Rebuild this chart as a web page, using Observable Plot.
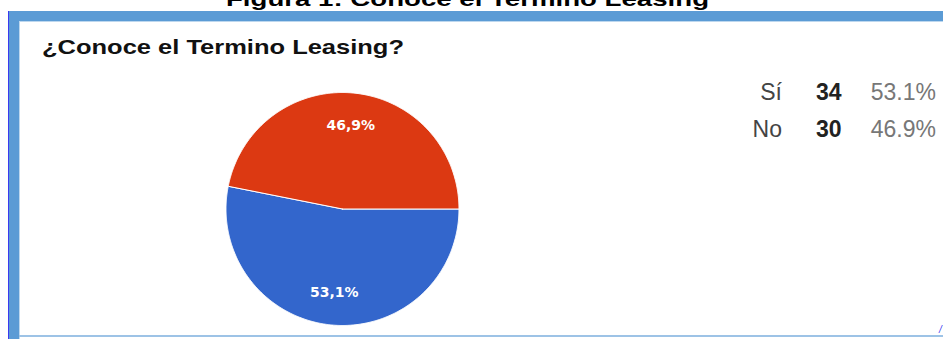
<!DOCTYPE html>
<html><head><meta charset="utf-8">
<script src="https://cdn.jsdelivr.net/npm/d3@7"></script>
<script src="https://cdn.jsdelivr.net/npm/@observablehq/plot@0.6"></script>
<style>
body{margin:0;background:#fff;}
#wrap{position:relative;width:943px;height:339px;overflow:hidden;background:#fff;font-family:"Liberation Sans",Arial,sans-serif;}
.abs{position:absolute;white-space:nowrap;line-height:1;}
.box{position:absolute;}
</style></head><body>
<div id="wrap">
  <div id="chart" class="abs" style="left:0;top:0"></div>
  <div class="box" style="left:8px;top:11px;width:935px;height:10px;background:#5B9BD5"></div>
  <div class="box" style="left:8px;top:11px;width:11px;height:328px;background:#5B9BD5"></div>
  <div class="box" style="left:8px;top:11px;width:1px;height:328px;background:#3a3af0"></div>
  <div class="box" style="left:19px;top:21px;width:1px;height:318px;background:#BDD7EE"></div>
  <div class="box" style="left:19px;top:21px;width:924px;height:1px;background:#BDD7EE"></div>
  <div class="box" style="left:19px;top:335px;width:924px;height:2px;background:#9DC3E6"></div>
</div>
<script>
// ---- data ----
const categories = ["Sí", "No"];
const counts = [34, 30];
const colors = ["#3366CC", "#DC3912"];
const chartTitle = "¿Conoce el Termino Leasing?";
const figureCaption = "Figura 1: Conoce el Termino Leasing";

const total = d3.sum(counts);
const pct = counts.map(c => c / total * 100);

// ---- pie geometry from data ----
const R = 116.5;
const arcs = d3.pie().sort(null).startAngle(Math.PI / 2).endAngle(Math.PI / 2 + 2 * Math.PI)(counts);
const slices = arcs.map((a, i) => {
  const pts = [{x: 0, y: 0}];
  const n = Math.max(4, Math.ceil((a.endAngle - a.startAngle) / (Math.PI / 360)));
  for (let k = 0; k <= n; k++) {
    const t = a.startAngle + (a.endAngle - a.startAngle) * k / n;
    pts.push({x: R * Math.sin(t), y: R * Math.cos(t)});
  }
  pts.push({x: 0, y: 0});
  return pts;
});
const fmtES = v => v.toFixed(1).replace(".", ",") + "%";
const labels = arcs.map((a, i) => {
  const m = (a.startAngle + a.endAngle) / 2;
  return {x: 0.72 * R * Math.sin(m), y: 0.72 * R * Math.cos(m), text: fmtES(pct[i])};
});

const W = 943, H = 339, cx = 342, cy = 208.5;
const plot = Plot.plot({
  width: W, height: H,
  margin: 0,
  x: {domain: [-cx, W - cx], range: [0, W], axis: null},
  y: {domain: [-(H - cy), cy], range: [H, 0], axis: null},
  marks: [
    ...slices.map((pts, i) => Plot.line(pts, {x: "x", y: "y", fill: colors[i], stroke: "#ffffff", strokeWidth: 1, curve: "linear"})),
    Plot.text(labels, {x: "x", y: "y", text: "text", fill: "white", fontFamily: "DejaVu Sans", fontWeight: "bold", fontSize: 14})
  ]
});
document.getElementById("chart").appendChild(plot);

// ---- text helpers ----
const wrap = document.getElementById("wrap");
function place(text, o) {
  const el = document.createElement("div");
  el.className = "abs";
  el.textContent = text;
  el.style.fontSize = o.fs + "px";
  el.style.fontWeight = o.weight || "normal";
  el.style.color = o.color || "#000";
  if (o.family) el.style.fontFamily = o.family;
  el.style.top = (o.baseline - 0.8465 * o.fs) + "px";
  el.style.left = "0px";
  wrap.appendChild(el);
  const w = el.getBoundingClientRect().width;
  const s = o.width ? o.width / w : 1;
  const ww = w * s;
  let left = o.x;
  if (o.anchor === "end") left = o.x - ww;
  else if (o.anchor === "middle") left = o.x - ww / 2;
  el.style.left = left + "px";
  el.style.transformOrigin = "0 0";
  if (s !== 1) el.style.transform = "scaleX(" + s + ")";
  return el;
}

place(figureCaption, {x: 467.5, baseline: 6, fs: 21, weight: "bold", color: "#000", anchor: "middle", width: 483});
place(chartTitle, {x: 42, baseline: 54.5, fs: 20.5, weight: "bold", color: "#111", anchor: "start", width: 362});

const rowBase = [100, 137];
categories.forEach((c, i) => {
  place(c, {x: 782, baseline: rowBase[i], fs: 23, color: "#444", anchor: "end"});
  place(String(counts[i]), {x: 816, baseline: rowBase[i], fs: 23, weight: "bold", color: "#222", anchor: "start"});
  place(pct[i].toFixed(1) + "%", {x: 936, baseline: rowBase[i], fs: 23, color: "#777", anchor: "end"});
});
place("/", {x: 939, baseline: 333, fs: 10, color: "#3a3af0", anchor: "start"}).style.fontStyle = "italic";
</script>
</body></html>
